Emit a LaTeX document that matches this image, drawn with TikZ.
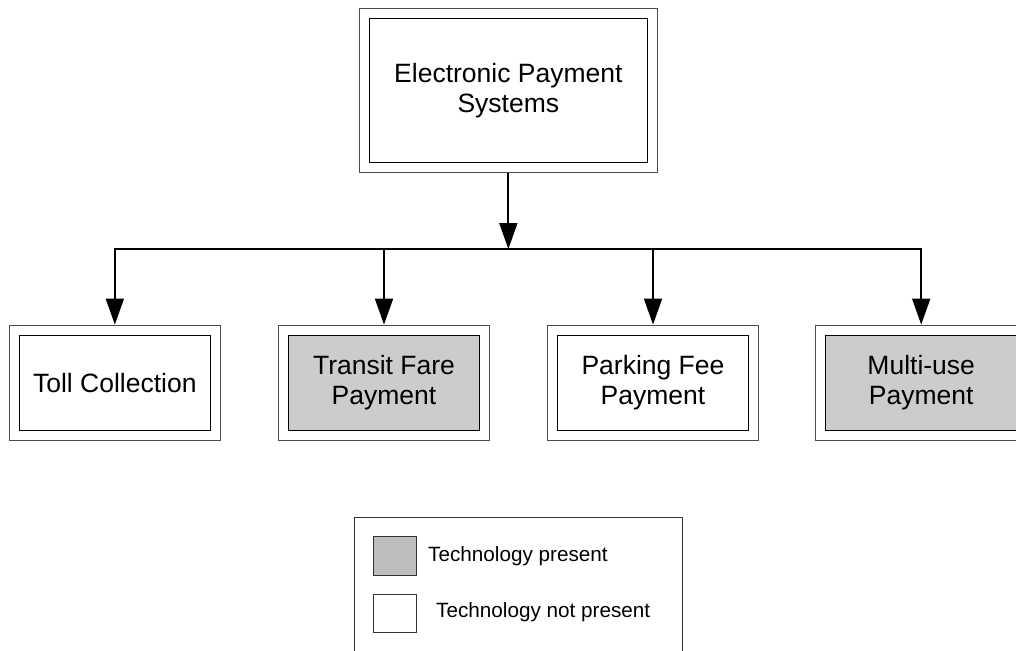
\documentclass[tikz,border=0pt]{standalone}
\usepackage{fontspec}
\setmainfont{Liberation Sans}
\usetikzlibrary{arrows.meta,fit}
\definecolor{boxgray}{HTML}{CCCCCC}
\definecolor{leggray}{HTML}{BDBDBD}
\begin{document}
\begin{tikzpicture}[x=1pt,y=-1pt,
  inbox/.style={draw=black, line width=0.9pt, inner sep=0pt, align=center,
    font=\fontsize{26.5}{30.5}\selectfont},
  childbox/.style={inbox, minimum width=190.7pt, minimum height=94.7pt},
  outbox/.style={draw=black!70, line width=0.9pt, inner sep=10pt},
  present/.style={fill=boxgray},
  conn/.style={line width=1.8pt, -{Triangle[width=18pt,length=26pt]}},
  bar/.style={line width=1.8pt},
  legsq/.style={draw=black!80, line width=0.9pt, minimum width=42.7pt, minimum height=38.3pt, inner sep=0pt},
  legtext/.style={anchor=west, inner sep=0pt, font=\fontsize{20.7}{24}\selectfont}
]
\useasboundingbox (0,0) rectangle (1016,650);
\clip (0,0) rectangle (1016,650);

\node[inbox, minimum width=277.7pt, minimum height=143.4pt] (top) at (508.35,90.5)
  {Electronic Payment\\Systems};
\node[outbox, fit=(top)] (topF) {};

\node[childbox] (toll) at (114.85,382.85) {Toll Collection};
\node[childbox, present] (transit) at (384,382.85) {Transit Fare\\Payment};
\node[childbox] (parking) at (653,382.85) {Parking Fee\\Payment};
\node[childbox, present] (multi) at (921.2,382.85) {Multi-use\\Payment};
\foreach \n in {toll,transit,parking,multi}
  \node[outbox, fit=(\n)] (\n F) {};

\coordinate (junc) at (508.35,249);
\coordinate (barL) at (114.85,249);
\coordinate (barR) at (921.2,249);

\draw[conn] (topF.south) -- (junc);
\draw[bar] ([xshift=-0.9pt]barL) -- ([xshift=0.9pt]barR);
\draw[conn] (barL) -- (tollF.north);
\draw[conn] (transitF.north |- junc) -- (transitF.north);
\draw[conn] (parkingF.north |- junc) -- (parkingF.north);
\draw[conn] (barR) -- (multiF.north);

\node[draw=black!80, line width=0.9pt, anchor=north west, minimum width=327.4pt,
  minimum height=200pt, inner sep=0pt] (legend) at (354.3,516.7) {};
\node[legsq, fill=leggray] (sqp) at (394.65,555.85) {};
\node[legsq, fill=white] (sqn) at (394.65,613.35) {};
\node[legtext] (tp) at (428,555.7) {Technology present};
\node[legtext] (tn) at (436,611.7) {Technology not present};
\end{tikzpicture}
\end{document}
